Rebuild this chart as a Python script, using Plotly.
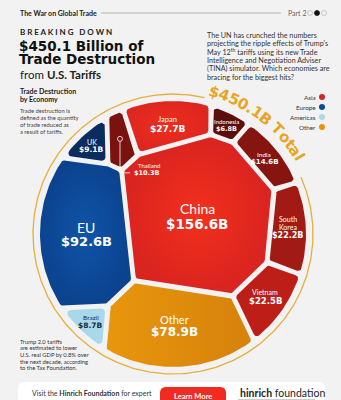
import numpy as np
import plotly.graph_objects as go

# ---------------- data ----------------
economies = ["China", "EU", "Other", "Japan", "Vietnam", "South Korea",
             "India", "Thailand", "UK", "Brazil", "Indonesia"]
values = [156.6, 92.6, 78.9, 27.7, 22.5, 22.2, 14.6, 10.3, 9.1, 8.7, 6.8]
regions = ["Asia", "Europe", "Other", "Asia", "Asia", "Asia",
           "Asia", "Asia", "Europe", "Americas", "Asia"]
legend_labels = ["Asia", "Europe", "Americas", "Other"]
total_label = "$450.1B Total"

# ---------------- styling / layout ----------------
W, H = 341, 400
BG = "#F2F2F2"
CX, CY, R = 173, 234, 133          # cell disk
RING_R = 140
GOLD = "#E8AE3C"
cell_colors = {
    "China": "#E5281E", "EU": "#0D4A9A", "Other": "#E08A0C", "Japan": "#E4281F",
    "Vietnam": "#BD1E17", "South Korea": "#A11A14", "India": "#861510",
    "Thailand": "#7A1310", "UK": "#0B2C5E", "Brazil": "#A9D8EA", "Indonesia": "#5C0E0B",
}
legend_colors = {"Asia": "#D7262A", "Europe": "#0D4A9A", "Americas": "#A9D8EA", "Other": "#E8940A"}
# seed positions (layout only)
seeds = {
    "China": (198, 216), "EU": (79, 220), "Other": (190, 334), "Japan": (178, 121),
    "Vietnam": (270, 274), "South Korea": (293, 218), "India": (272, 153),
    "Thailand": (133, 133), "UK": (100, 129), "Brazil": (84, 321), "Indonesia": (235, 120),
}

# ---------------- power-diagram (Voronoi treemap) ----------------
def circle_poly(r, n=240):
    t = np.linspace(0, 2 * np.pi, n, endpoint=False)
    return np.c_[CX + r * np.cos(t), CY + r * np.sin(t)]

def clip(P, a, b, c):
    if len(P) == 0:
        return P
    f = P @ np.array([a, b]) - c
    Q = np.roll(P, -1, axis=0)
    fq = np.roll(f, -1)
    inside = f <= 0
    cross = f * fq < 0
    den = np.where(cross, f - fq, 1.0)
    t = np.where(cross, f / den, 0.0)
    I = P + t[:, None] * (Q - P)
    pts = np.stack([P, I], 1)
    mask = np.stack([inside, cross], 1)
    return pts[mask]

def cells(sites, w, shrink=0.0, r=R):
    out = []
    n = len(sites)
    for i in range(n):
        P = circle_poly(r)
        for j in range(n):
            if i == j:
                continue
            d = sites[j] - sites[i]
            a, b = 2 * d
            c = sites[j] @ sites[j] - sites[i] @ sites[i] - w[j] + w[i]
            c -= shrink * 2 * np.hypot(*d)
            P = clip(P, a, b, c)
            if len(P) == 0:
                break
        out.append(P)
    return out

def area_centroid(P):
    if len(P) < 3:
        return 0.0, None
    x, y = P[:, 0], P[:, 1]
    x1, y1 = np.roll(x, -1), np.roll(y, -1)
    cr = x * y1 - x1 * y
    A = cr.sum() / 2
    if abs(A) < 1e-9:
        return 0.0, None
    cx = ((x + x1) * cr).sum() / (6 * A)
    cy = ((y + y1) * cr).sum() / (6 * A)
    return abs(A), np.array([cx, cy])

vals = np.array(values, float)
targets = vals / vals.sum() * np.pi * R * R
seed_arr = np.array([seeds[e] for e in economies], float)
sites = seed_arr.copy()
w = np.zeros(len(vals))
for it in range(340):
    cs = cells(sites, w)
    for i, P in enumerate(cs):
        A, c = area_centroid(P)
        if A == 0:
            w[i] += 300
            continue
        w[i] += 0.3 * (targets[i] - A)
        if 120 < it < 280:
            goal = 0.6 * c + 0.4 * seed_arr[i]
            sites[i] += 0.05 * (goal - sites[i])
    w -= w.mean()

base_cells = cells(sites, w)
centroids = [area_centroid(P)[1] for P in base_cells]

GAP, RR = 2.4, 3.5
inner = cells(sites, w, shrink=GAP + RR, r=R - RR)

def hull(points):
    pts = sorted(set(map(tuple, np.round(points, 3))))
    def cross(o, a, b):
        return (a[0]-o[0])*(b[1]-o[1]) - (a[1]-o[1])*(b[0]-o[0])
    lower, upper = [], []
    for p in pts:
        while len(lower) >= 2 and cross(lower[-2], lower[-1], p) <= 0:
            lower.pop()
        lower.append(p)
    for p in reversed(pts):
        while len(upper) >= 2 and cross(upper[-2], upper[-1], p) <= 0:
            upper.pop()
        upper.append(p)
    return np.array(lower[:-1] + upper[:-1])

ang = np.linspace(0, 2 * np.pi, 20, endpoint=False)
disc = np.c_[RR * np.cos(ang), RR * np.sin(ang)]

fig = go.Figure()

# ring with gap for curved label
th = np.radians(np.linspace(77, 384, 400))
fig.add_trace(go.Scatter(x=CX + RING_R * np.cos(th), y=CY - RING_R * np.sin(th),
                         mode="lines", line=dict(color=GOLD, width=1.3), hoverinfo="skip"))

for i, e in enumerate(economies):
    P = inner[i]
    if len(P) < 3:
        continue
    Hh = hull((P[:, None, :] + disc[None, :, :]).reshape(-1, 2))
    Hh = np.vstack([Hh, Hh[:1]])
    kw = {}
    if e == "China":
        kw["fillgradient"] = dict(type="radial", colorscale=[[0, "#F3301C"], [1, "#D92420"]])
    elif e == "EU":
        kw["fillgradient"] = dict(type="radial", colorscale=[[0, "#1054A8"], [1, "#0B438F"]])
    elif e == "Other":
        kw["fillgradient"] = dict(type="horizontal", colorscale=[[0, "#E8960C"], [1, "#D6820C"]])
    elif e == "Japan":
        kw["fillgradient"] = dict(type="radial", colorscale=[[0, "#EE2E1E"], [1, "#DE2620"]])
    fig.add_trace(go.Scatter(x=Hh[:, 0], y=Hh[:, 1], fill="toself", fillcolor=cell_colors[e],
                             mode="lines", line=dict(width=0), hoverinfo="skip", **kw))

annots = []
def txt(x, y, s, size, color="#222", family="Lato", xanchor="center", yanchor="middle", angle=0):
    annots.append(dict(x=x, y=y, text=s, showarrow=False, xanchor=xanchor, yanchor=yanchor,
                       textangle=angle, font=dict(size=size, color=color, family=family),
                       xref="x", yref="y"))

VALF = "DejaVu Sans"
label_style = {  # name size, value size, dy offset
    "China": (14, 13.5, 7.5), "EU": (14, 13, 7), "Other": (11, 12, 6.5),
    "Japan": (7.5, 9, 4.5), "Vietnam": (7, 8.5, 4.5), "South Korea": (7, 8, 7),
    "India": (6.5, 7, 3.5), "UK": (7, 7.5, 4), "Brazil": (6.5, 7.5, 4), "Indonesia": (6, 6.5, 3.5),
}
for i, e in enumerate(economies):
    cx, cy = centroids[i]
    vtxt = f"<b>${values[i]:.1f}B</b>"
    if e == "Thailand":
        fig.add_trace(go.Scatter(x=[cx, cx, cx + 10], y=[cy - 3, cy + 31, cy + 31], mode="lines",
                                 line=dict(color="white", width=0.8), hoverinfo="skip"))
        fig.add_trace(go.Scatter(x=[cx], y=[cy - 3], mode="markers",
                                 marker=dict(size=5, color=cell_colors[e], line=dict(color="white", width=0.8)),
                                 hoverinfo="skip"))
        txt(cx + 29, cy + 24, e, 6, "white")
        txt(cx + 27, cy + 31.5, vtxt, 6.5, "white", VALF)
        continue
    ns, vs, dy = label_style[e]
    col = "#1A2B3A" if e == "Brazil" else "white"
    if e == "South Korea":
        txt(cx, cy - 11, "South", ns, col)
        txt(cx, cy - 3, "Korea", ns, col)
        txt(cx, cy + 6, vtxt, vs, col, VALF)
    else:
        txt(cx, cy - dy, e, ns, col)
        txt(cx, cy + dy, vtxt, vs, col, VALF)

# curved total label
widths = {"$": .70, "4": .70, "5": .70, "0": .70, ".": .38, "1": .70, "B": .76, " ": .35,
          "T": .68, "o": .69, "t": .48, "a": .68, "l": .34}
FS, RT = 15, 148
theta = np.radians(76)
for ch in total_label:
    wch = widths.get(ch, .65) * FS
    theta -= wch / 2 / RT
    if ch != " ":
        txt(CX + RT * np.cos(theta), CY - RT * np.sin(theta), f"<b>{ch}</b>", FS, "#E8A423",
            VALF, angle=90 - np.degrees(theta))
    theta -= wch / 2 / RT

# header
txt(18, 13, "<b>The War on Global Trade</b>", 7, "#222", xanchor="left")
txt(286, 13, "Part 2", 7, "#666", xanchor="left")
fig.add_trace(go.Scatter(x=[310, 317, 324], y=[13, 13, 13], mode="markers", hoverinfo="skip",
                         marker=dict(size=5, color=["rgba(0,0,0,0)", "#111", "rgba(0,0,0,0)"],
                                     line=dict(color=["#bbb", "#111", "#bbb"], width=0.8))))
txt(18, 32, "<b>B R E A K I N G   D O W N</b>", 8, "#222", xanchor="left")
txt(17, 45.5, "<b>$450.1 Billion of</b>", 13.5, "#111", VALF, xanchor="left")
txt(17, 58.5, "<b>Trade Destruction</b>", 13.5, "#111", VALF, xanchor="left")
txt(18, 74, "from <b>U.S. Tariffs</b>", 11.5, "#222", xanchor="left")

para = ["The UN has crunched the numbers",
        "projecting the ripple effects of Trump's",
        "May 12<sup>th</sup> tariffs using its new Trade",
        "Intelligence and Negotiation Adviser",
        "(TINA) simulator. Which economies are",
        "bracing for the biggest hits?"]
for k, line in enumerate(para):
    txt(205, 35 + k * 8.4, line, 7.2, "#333", xanchor="left")

txt(18, 91, "<b>Trade Destruction</b>", 7, "#222", xanchor="left")
txt(18, 99, "<b>by Economy</b>", 7, "#222", xanchor="left")
for k, line in enumerate(["Trade destruction is", "defined as the quantity",
                          "of trade reduced as", "a result of tariffs."]):
    txt(18, 110 + k * 7, line, 5.8, "#444", xanchor="left")

for k, line in enumerate(["Trump 2.0 tariffs", "are estimated to lower",
                          "U.S. real GDP by 0.8% over", "the next decade, according",
                          "to the Tax Foundation."]):
    txt(18, 341 + k * 6.7, line, 5.8, "#333", xanchor="left")

# legend
for k, lab in enumerate(legend_labels):
    txt(318, 97 + k * 10, lab, 6.3, "#333", xanchor="right")
fig.add_trace(go.Scatter(x=[322] * 4, y=[97 + k * 10 for k in range(4)], mode="markers", hoverinfo="skip",
                         marker=dict(size=6, color=[legend_colors[l] for l in legend_labels])))

# footer
shapes = [
    dict(type="line", x0=101, x1=281, y0=13, y1=13, line=dict(color="#999", width=0.7), layer="below"),
    dict(type="path", path="M 24 382 L 319 382 Q 325 382 325 388 L 325 410 L 18 410 L 18 388 Q 18 382 24 382 Z",
         fillcolor="white", line=dict(width=0), layer="below"),
    dict(type="path", path="M 166 387 L 220 387 Q 226 387 226 393 L 226 410 L 160 410 L 160 393 Q 160 387 166 387 Z",
         fillcolor="#EF2B22", line=dict(width=0), layer="above"),
    dict(type="rect", x0=238, x1=315, y0=399, y1=401, fillcolor="#ccc", line=dict(width=0), layer="above"),
]
txt(30, 393, "Visit the <b>Hinrich Foundation</b> for expert", 7, "#333", xanchor="left")
txt(193, 396, "<b>Learn More</b>", 7.5, "white")
txt(238, 393, "<b>hinrich</b> foundation", 10.5, "#222", xanchor="left")

fig.update_layout(
    width=W, height=H, margin=dict(l=0, r=0, t=0, b=0), autosize=False,
    paper_bgcolor=BG, plot_bgcolor=BG, showlegend=False,
    xaxis=dict(range=[0, W], visible=False, fixedrange=True),
    yaxis=dict(range=[H, 0], visible=False, fixedrange=True),
    annotations=annots, shapes=shapes,
)
fig.write_html("out.html")
